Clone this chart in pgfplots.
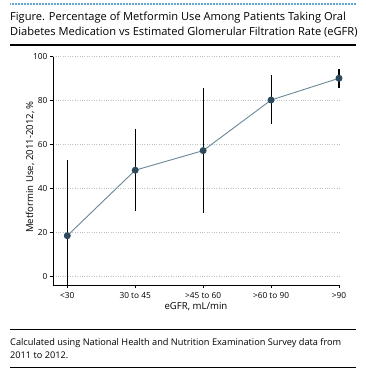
\documentclass[border=0pt]{standalone}
\usepackage{fontspec}
\setmainfont{Open Sans}
\usepackage{pgfplots}
\pgfplotsset{compat=1.18}
\definecolor{topblue}{RGB}{100,165,215}
\definecolor{linec}{RGB}{105,135,150}
\definecolor{markc}{RGB}{45,75,92}
\definecolor{gridc}{RGB}{185,195,205}
\begin{document}
\begin{tikzpicture}[x=1pt,y=1pt]
\path[use as bounding box] (0,0) rectangle (366,-378);
\draw[topblue, line width=2.4pt, dash pattern=on 1pt off 0.5pt] (10,-4) -- (356,-4);
\node[anchor=base west, inner sep=0, font=\fontsize{11.1}{13}\selectfont] at (10,-20) {Figure. Percentage of Metformin Use Among Patients Taking Oral};
\node[anchor=base west, inner sep=0, font=\fontsize{11.1}{13}\selectfont] at (10,-35) {Diabetes Medication vs Estimated Glomerular Filtration Rate (eGFR)};
\draw[black, line width=1.3pt] (10,-45) -- (356,-45);
\begin{axis}[
  at={(53.3pt,-285pt)}, anchor=south west,
  scale only axis, width=285.7pt, height=228.3pt,
  xmin=-0.206, xmax=4, ymin=-3.8, ymax=100,
  axis x line*=bottom, axis y line*=left,
  axis line style={line width=1pt, -},
  xtick={0,1,2,3,4},
  xticklabels={<30,30 to 45,>45 to 60,>60 to 90,>90},
  ytick={0,20,40,60,80,100},
  tick align=outside, major tick length=3pt,
  tick style={black, line width=0.8pt},
  ymajorgrids, grid style={gridc, dotted, line width=0.6pt},
  /pgf/number format/assume math mode=true,
  ticklabel style={font=\fontsize{8.3}{9}\selectfont},
  xticklabel style={yshift=-0.5pt},
  yticklabel style={xshift=0.5pt},
  clip=false,
]
\addplot[draw=none, mark=none, forget plot, error bars/.cd, y dir=both, y explicit, error mark=none,
  error bar style={black, line width=1.1pt}]
  table[x=x, y=y, y error plus=ep, y error minus=em] {
  x y ep em
  0 18.6 34.4 22.6
  1 48.4 18.7 18.5
  2 57.3 28.3 28.5
  3 80.3 11.4 11.0
  4 90.2 4.1 4.3
  };
\addplot[linec, line width=0.9pt, mark=*, mark size=3pt, mark options={fill=markc, draw=markc}]
  table[x=x, y=y] {
  x y
  0 18.6
  1 48.4
  2 57.3
  3 80.3
  4 90.2
  };
\end{axis}
\node[rotate=90, font=\fontsize{9.6}{11}\selectfont] at (30,-167) {Metformin Use, 2011-2012, \%};
\node[font=\fontsize{9.6}{11}\selectfont] at (196,-307) {eGFR, mL/min};
\draw[black, line width=0.9pt] (10,-329) -- (356,-329);
\node[anchor=base west, inner sep=0, font=\fontsize{9.2}{11}\selectfont] at (10,-345) {Calculated using National Health and Nutrition Examination Survey data from};
\node[anchor=base west, inner sep=0, font=\fontsize{9.2}{11}\selectfont] at (10,-358) {2011 to 2012.};
\draw[black, line width=0.9pt] (10,-367) -- (356,-367);
\end{tikzpicture}
\end{document}
